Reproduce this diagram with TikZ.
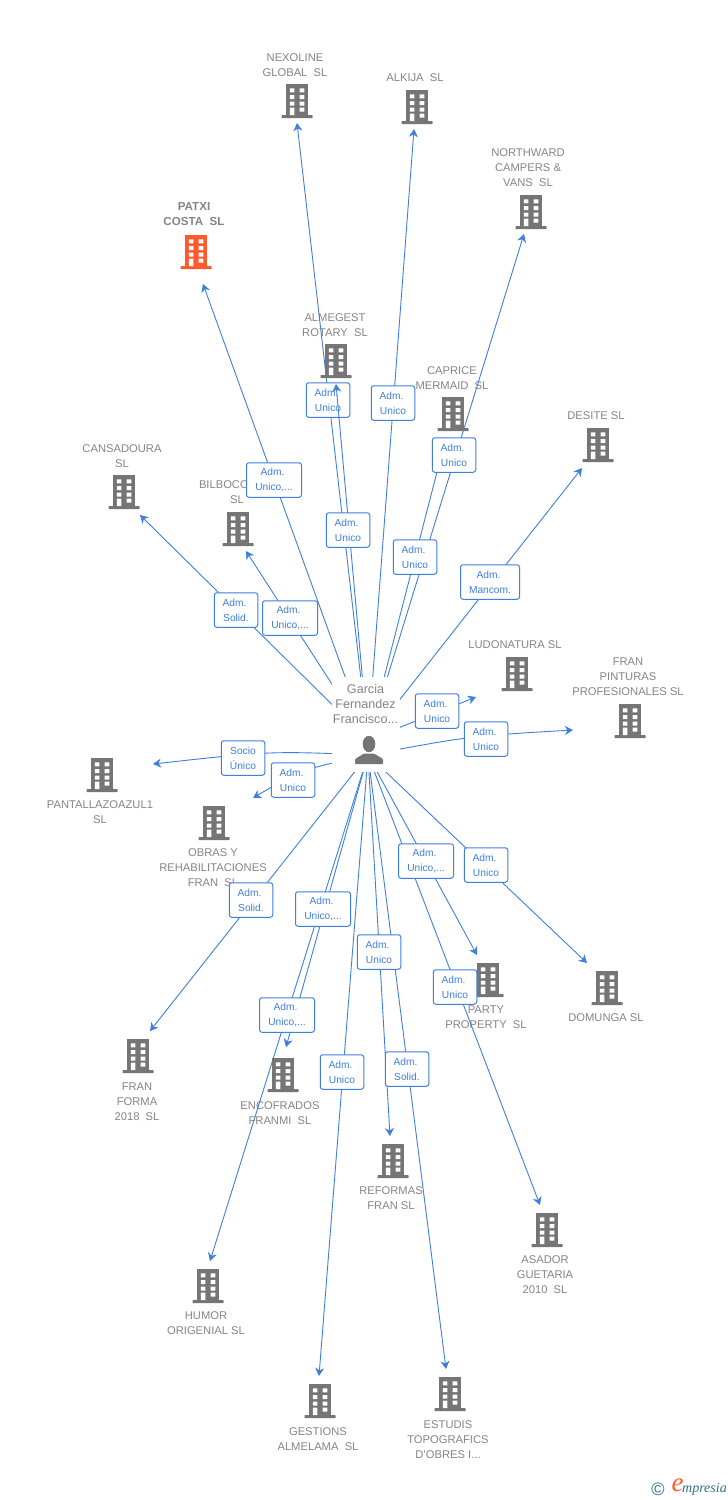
\documentclass[tikz,border=0pt]{standalone}
\usepackage{fontspec}
\setmainfont{Liberation Sans}
\newfontfamily\logofont{Liberation Serif}
\usetikzlibrary{arrows.meta}
\definecolor{linkblue}{HTML}{3F7FDE}
\definecolor{corpgray}{HTML}{757575}
\definecolor{txtgray}{HTML}{858585}
\definecolor{corporange}{HTML}{FF5A2B}
\definecolor{logoteal}{HTML}{2F6F8E}
\newcommand{\adm}{Adm.\kern3pt}
\tikzset{
  corp/.style={minimum width=32pt,minimum height=35pt,inner sep=0pt},
  corpicon/.pic={
    \fill[pic actions] (-11,-17) rectangle (11,14.5);
    \fill[pic actions,rounded corners=0.5pt] (-15.5,14) rectangle (15.5,17);
    \fill[white] (-7.2,-12.7) rectangle +(4.6,4) (2.7,-12.7) rectangle +(4.6,4)
      (-7.2,-6) rectangle +(4.6,4) (2.7,-6) rectangle +(4.6,4)
      (-7.2,0.7) rectangle +(4.6,4) (2.7,0.7) rectangle +(4.6,4)
      (2.7,6.7) rectangle +(4.6,4) (-7.2,6.7) rectangle (-2.6,14);
  },
  corptxt/.style={text=txtgray,align=center,inner sep=0pt,yshift=-0.8pt,font=\fontsize{11.2}{15}\selectfont},
  link/.style={linkblue,line width=0.9pt,-{Stealth[length=8pt,width=9pt,inset=2.5pt]}},
  admbox/.style={draw=linkblue,line width=1pt,rounded corners=2.5pt,fill=white,text=linkblue,
    minimum width=43.5pt,minimum height=34.5pt,inner sep=0pt,align=center,
    font=\fontsize{10.2}{15}\selectfont},
  admwide/.style={admbox,minimum width=55pt}
}
\begin{document}
\begin{tikzpicture}[x=1pt,y=-1pt]
  \path[use as bounding box,fill=white] (0,0) rectangle (728,1500);
  \coordinate (hubup) at (368,740);
  \coordinate (hublow) at (368,755);
  % companies
  \node[corp] (nexoline) at (297,101) {};
  \node[corptxt] (nexolinetxt) at (295,64) {NEXOLINE\\GLOBAL~~SL};
  \node[corp] (alkija) at (417,107) {};
  \node[corptxt] (alkijatxt) at (415,77) {ALKIJA~~SL};
  \node[corp] (northward) at (531,212) {};
  \node[corptxt] (northwardtxt) at (528,167) {NORTHWARD\\CAMPERS \&\\VANS~~SL};
  \node[corp] (patxi) at (196,252) {};
  \node[corptxt,font=\fontsize{11.6}{15}\selectfont\bfseries] (patxitxt) at (194,213) {PATXI\\COSTA~~SL};
  \node[corp] (almegest) at (336,361) {};
  \node[corptxt] (almegesttxt) at (335,324) {ALMEGEST\\ROTARY~~SL};
  \node[corp] (caprice) at (453,414) {};
  \node[corptxt] (capricetxt) at (452,377) {CAPRICE\\MERMAID~~SL};
  \node[corp] (desite) at (598,445) {};
  \node[corptxt] (desitetxt) at (596,415) {DESITE SL};
  \node[corp] (cansadoura) at (124,492) {};
  \node[corptxt] (cansadouratxt) at (122,455) {CANSADOURA\\SL};
  \node[corp] (bilboco) at (238,529) {};
  \node[corptxt] (bilbocotxt) at (237,491) {\makebox[76pt][l]{BILBOCO}\\SL};
  \node[corp] (ludonatura) at (517,674) {};
  \node[corptxt] (ludonaturatxt) at (515,644) {LUDONATURA SL};
  \node[corp] (pinturas) at (630,721) {};
  \node[corptxt] (pinturastxt) at (628,676) {FRAN\\PINTURAS\\PROFESIONALES SL};
  \node[corp] (pantalla) at (102,775) {};
  \node[corptxt] (pantallatxt) at (100,811) {PANTALLAZOAZUL1\\SL};
  \node[corp] (obras) at (214,823) {};
  \node[corptxt] (obrastxt) at (213,867) {OBRAS Y\\REHABILITACIONES\\FRAN~~SL};
  \node[corp] (party) at (488,980) {};
  \node[corptxt] (partytxt) at (486,1016) {PARTY\\PROPERTY~~SL};
  \node[corp] (domunga) at (607,988) {};
  \node[corptxt] (domungatxt) at (606,1017) {DOMUNGA SL};
  \node[corp] (franforma) at (138,1056) {};
  \node[corptxt] (franformatxt) at (137,1101) {FRAN\\FORMA\\2018~~SL};
  \node[corp] (encofrados) at (283,1075) {};
  \node[corptxt] (encofradostxt) at (280,1112) {ENCOFRADOS\\FRANMI~~SL};
  \node[corp] (reformas) at (393,1161) {};
  \node[corptxt] (reformastxt) at (391,1197) {REFORMAS\\FRAN SL};
  \node[corp] (asador) at (547,1230) {};
  \node[corptxt] (asadortxt) at (545,1274) {ASADOR\\GUETARIA\\2010~~SL};
  \node[corp] (humor) at (208,1286) {};
  \node[corptxt] (humortxt) at (206,1322) {HUMOR\\ORIGENIAL SL};
  \node[corp] (gestions) at (320,1401) {};
  \node[corptxt] (gestionstxt) at (318,1438) {GESTIONS\\ALMELAMA~~SL};
  \node[corp] (estudis) at (450,1394) {};
  \node[corptxt] (estudistxt) at (448,1439) {ESTUDIS\\TOPOGRAFICS\\D'OBRES I...};
  % connectors
  \draw[link] (hubup) -- ([shift={(0,22)}]nexoline.center);
  \draw[link] (hubup) -- ([shift={(-3,22)}]alkija.center);
  \draw[link] (hubup) -- ([shift={(-7,22)}]northward.center);
  \draw[link] (hubup) -- ([shift={(7,32)}]patxi.center);
  \draw[link] (hubup) -- ([shift={(-7,23)}]caprice.center);
  \draw[link] (hubup) -- ([shift={(-16,23)}]desite.center);
  \draw[link] (hubup) -- ([shift={(16,23)}]cansadoura.center);
  \draw[link] (hubup) -- ([shift={(8,22)}]bilboco.center);
  \draw[link] (hubup) -- ([shift={(-41,23)}]ludonatura.center);
  \draw[link] (hublow) -- ([shift={(-11,-25)}]party.center);
  \draw[link] (hublow) -- ([shift={(-20,-25)}]domunga.center);
  \draw[link] (hublow) -- ([shift={(12,-25)}]franforma.center);
  \draw[link] (hublow) -- ([shift={(3,-28)}]encofrados.center);
  \draw[link] (hublow) -- ([shift={(-3,-25)}]reformas.center);
  \draw[link] (hublow) -- ([shift={(-7,-25)}]asador.center);
  \draw[link] (hublow) -- ([shift={(2,-25)}]humor.center);
  \draw[link] (hublow) -- ([shift={(-1,-25)}]gestions.center);
  \draw[link] (hublow) -- ([shift={(-4,-25)}]estudis.center);
  \draw[link] (hublow) .. controls (470,736) .. ([shift={(-57,9)}]pinturas.center);
  \draw[link] (hublow) .. controls (270,751) .. ([shift={(51,-11)}]pantalla.center);
  \draw[link] (hublow) .. controls (300,770) .. ([shift={(39,-25)}]obras.center);
  % icons go over the lines
  \pic[fill=corpgray] at (nexoline) {corpicon};
  \pic[fill=corpgray] at (alkija) {corpicon};
  \pic[fill=corpgray] at (northward) {corpicon};
  \pic[fill=corporange] at (patxi) {corpicon};
  \pic[fill=corpgray] at (almegest) {corpicon};
  \pic[fill=corpgray] at (caprice) {corpicon};
  \pic[fill=corpgray] at (desite) {corpicon};
  \pic[fill=corpgray] at (cansadoura) {corpicon};
  \pic[fill=corpgray] at (bilboco) {corpicon};
  \pic[fill=corpgray] at (ludonatura) {corpicon};
  \pic[fill=corpgray] at (pinturas) {corpicon};
  \pic[fill=corpgray] at (pantalla) {corpicon};
  \pic[fill=corpgray] at (obras) {corpicon};
  \pic[fill=corpgray] at (party) {corpicon};
  \pic[fill=corpgray] at (domunga) {corpicon};
  \pic[fill=corpgray] at (franforma) {corpicon};
  \pic[fill=corpgray] at (encofrados) {corpicon};
  \pic[fill=corpgray] at (reformas) {corpicon};
  \pic[fill=corpgray] at (asador) {corpicon};
  \pic[fill=corpgray] at (humor) {corpicon};
  \pic[fill=corpgray] at (gestions) {corpicon};
  \pic[fill=corpgray] at (estudis) {corpicon};
  \node[admbox] (admnexoline) at (328,400) {\adm\\Unico};
  \draw[link] (hubup) -- ([shift={(0,23)}]almegest.center);
  % the person sits over the start of the lines
  \node[fill=white,minimum width=68pt,minimum height=95pt,inner sep=0pt] (person) at (366,724.5) {};
  \node[corptxt,font=\fontsize{12.6}{15}\selectfont] (persontxt) at (365.5,703.2) {Garcia\\Fernandez\\Francisco...};
  \fill[corpgray] (369,744) ellipse (6.3 and 8.2);
  \fill[corpgray,rounded corners=1pt] (355,764) -- (355,759) -- (364,753.5) -- (374,753.5) -- (383,759) -- (383,764) -- cycle;
  % roles
  \node[admbox] (admalkija) at (393,403) {\adm\\Unico};
  \node[admbox] (admnorthward) at (454,455) {\adm\\Unico};
  \node[admwide] (admpatxi) at (274,480) {\adm\\Unico,...};
  \node[admbox] (admalmegest) at (348,530) {\adm\\Unico};
  \node[admbox] (admcaprice) at (415,557) {\adm\\Unico};
  \node[admbox,minimum width=59pt] (admdesite) at (490,582) {\adm\\Mancom.};
  \node[admbox] (admcansadoura) at (236,610) {\adm\\Solid.};
  \node[admwide] (admbilboco) at (290,618) {\adm\\Unico,...};
  \node[admbox] (admludonatura) at (437,711) {\adm\\Unico};
  \node[admbox] (admpinturas) at (486,739) {\adm\\Unico};
  \node[admbox] (socpantalla) at (243,758) {Socio\\Único};
  \node[admbox] (admobras) at (293,780) {\adm\\Unico};
  \node[admbox] (admfranforma) at (251,900) {\adm\\Solid.};
  \node[admwide] (admhumor) at (323,909) {\adm\\Unico,...};
  \node[admwide] (admencofrados) at (287,1015) {\adm\\Unico,...};
  \node[admbox] (admgestions) at (342,1072) {\adm\\Unico};
  \node[admbox] (admreformas) at (379,952) {\adm\\Unico};
  \node[admbox] (admestudis) at (407,1069) {\adm\\Solid.};
  \node[admwide] (admparty) at (426,861) {\adm\\Unico,...};
  \node[admbox] (admdomunga) at (486,865) {\adm\\Unico};
  \node[admbox] (admasador) at (455,987) {\adm\\Unico};
  % logo
  \node[text=logoteal,inner sep=0pt,font=\fontsize{18}{18}\selectfont] (logoc) at (658,1489) {©};
  \node[text=corporange,inner sep=0pt,font=\fontsize{27}{27}\selectfont\logofont\itshape] (logoe) at (677.5,1485.5) {e};
  \node[text=logoteal,inner sep=0pt,font=\fontsize{14}{14}\selectfont\logofont\itshape] (logotxt) at (704.5,1489) {mpresia};
\end{tikzpicture}
\end{document}
